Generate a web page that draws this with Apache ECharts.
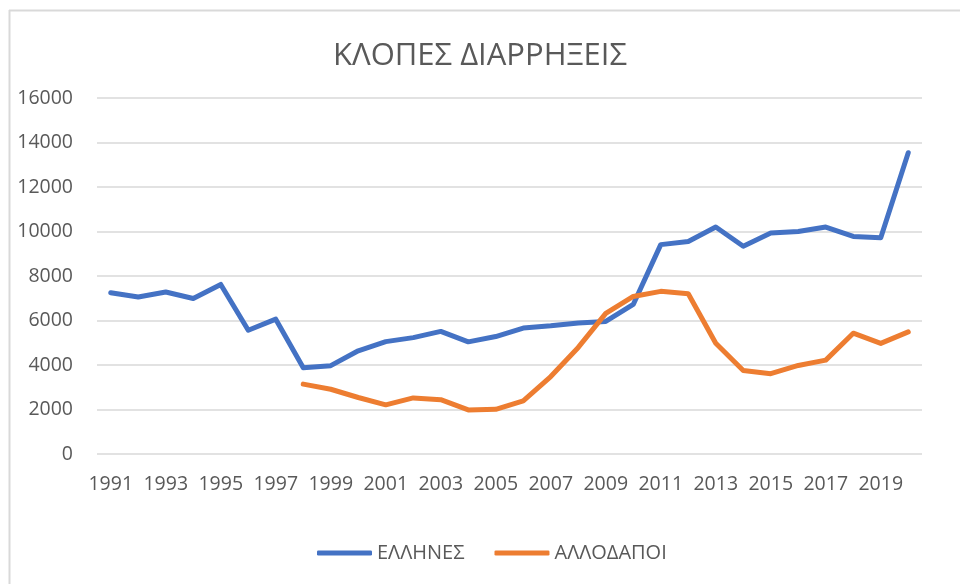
<!DOCTYPE html>
<html>
<head>
<meta charset="utf-8">
<script src="https://cdn.jsdelivr.net/npm/echarts@6/dist/echarts.min.js"></script>
<style>
  html, body { margin: 0; padding: 0; background: #fff; }
  #main { width: 960px; height: 584px; }
</style>
</head>
<body>
<div id="main"></div>
<script>
var myChart = echarts.init(document.getElementById('main'));

// years on the x axis
var years = [];
for (var y = 1991; y <= 2020; y++) years.push(String(y));

// ΕΛΛΗΝΕΣ
var greeks = [
  7250, 7060, 7280, 6990, 7620, 5560, 6060, 3880, 3970, 4640,
  5050, 5230, 5510, 5040, 5280, 5660, 5760, 5890, 5960, 6720,
  9410, 9550, 10200, 9340, 9930, 10000, 10200, 9780, 9720, 13540
];

// ΑΛΛΟΔΑΠΟΙ (no data before 1998)
var foreigners = [
  null, null, null, null, null, null, null, 3140, 2910, 2540,
  2210, 2520, 2440, 1980, 2010, 2390, 3480, 4790, 6320, 7080,
  7310, 7200, 4980, 3750, 3610, 3980, 4220, 5430, 4970, 5490
];

var textColor = '#595959';
var font = "'Open Sans', 'Noto Sans', sans-serif";

var option = {
  backgroundColor: '#fff',
  animation: false,
  title: {
    text: 'ΚΛΟΠΕΣ ΔΙΑΡΡΗΞΕΙΣ',
    left: 'center',
    top: 36,
    textStyle: {
      fontFamily: font,
      fontSize: 31,
      fontWeight: 'normal',
      color: textColor
    }
  },
  // outer frame, only top and left edges are visible
  graphic: [
    { type: 'line', shape: { x1: 9, y1: 10.5, x2: 960, y2: 10.5 }, style: { stroke: '#d9d9d9', lineWidth: 2 } },
    { type: 'line', shape: { x1: 9.5, y1: 10, x2: 9.5, y2: 584 }, style: { stroke: '#d9d9d9', lineWidth: 2 } }
  ],
  legend: {
    bottom: 16,
    left: 312,
    icon: 'roundRect',
    itemWidth: 55,
    itemHeight: 5,
    itemGap: 30,
    textStyle: { fontFamily: font, fontSize: 20, color: textColor },
    data: ['ΕΛΛΗΝΕΣ', 'ΑΛΛΟΔΑΠΟΙ']
  },
  grid: { left: 97, right: 38, top: 98, bottom: 130 },
  xAxis: {
    type: 'category',
    data: years,
    boundaryGap: true,
    axisLine: { show: false },
    axisTick: { show: false },
    axisLabel: {
      interval: 1,
      margin: 20,
      fontFamily: font,
      fontSize: 19.5,
      color: textColor
    }
  },
  yAxis: {
    type: 'value',
    min: 0,
    max: 16000,
    interval: 2000,
    axisLabel: {
      margin: 24,
      fontFamily: font,
      fontSize: 19.5,
      color: textColor,
      formatter: function (v) { return String(v); }
    },
    splitLine: { lineStyle: { color: '#d9d9d9', width: 1.5 } }
  },
  series: [
    {
      name: 'ΕΛΛΗΝΕΣ',
      type: 'line',
      data: greeks,
      symbol: 'none',
      itemStyle: { color: '#4472C4' },
      lineStyle: { color: '#4472C4', width: 5, cap: 'round', join: 'round' }
    },
    {
      name: 'ΑΛΛΟΔΑΠΟΙ',
      type: 'line',
      data: foreigners,
      symbol: 'none',
      itemStyle: { color: '#ED7D31' },
      lineStyle: { color: '#ED7D31', width: 5, cap: 'round', join: 'round' }
    }
  ]
};

myChart.setOption(option);
</script>
</body>
</html>
